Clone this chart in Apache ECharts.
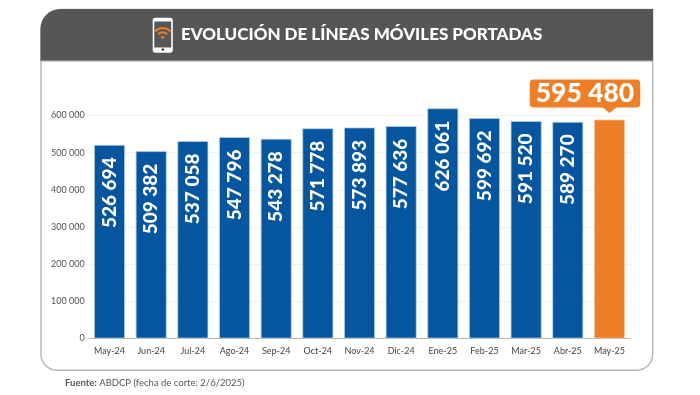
<!DOCTYPE html>
<html><head><meta charset="utf-8">
<style>html,body{margin:0;padding:0;background:#fff}#c{width:700px;height:395px}</style>
<script src="https://cdn.jsdelivr.net/npm/echarts@6/dist/echarts.min.js"></script>
</head><body><div id="c"></div>
<script>
const categories = ['May-24','Jun-24','Jul-24','Ago-24','Sep-24','Oct-24','Nov-24','Dic-24','Ene-25','Feb-25','Mar-25','Abr-25','May-25'];
const values = [526694,509382,537058,547796,543278,571778,573893,577636,626061,599692,591520,589270,595480];
const title = 'EVOLUCIÓN DE LÍNEAS MÓVILES PORTADAS';
const BLUE = '#05569f', ORANGE = '#ee7f26', FONT = 'Lato, "Open Sans", sans-serif';
const fmt = v => String(v).replace(/\B(?=(\d{3})+$)/g, ' ');

const chart = echarts.init(document.getElementById('c'), null, {renderer:'canvas'});
const last = values.length - 1;
chart.setOption({
  animation:false,
  backgroundColor:'#fff',
  textStyle:{fontFamily:FONT},
  grid:{left:88.7, top:115.5, width:541.6, height:223, containLabel:false},
  xAxis:{type:'category', data:categories,
    axisTick:{show:false},
    axisLine:{lineStyle:{color:'#b4b4b4',width:1}},
    axisLabel:{color:'#444',fontSize:9,margin:8,interval:0,fontFamily:FONT}},
  yAxis:[
    {type:'value',min:0,max:600000,interval:100000,
      axisLine:{show:false},axisTick:{show:false},
      splitLine:{lineStyle:{color:'#f1f1f1',width:1}},
      axisLabel:{color:'#555',fontSize:9,margin:4,fontFamily:FONT,formatter:fmt}},
    {type:'value',min:0,max:606500,show:false,splitLine:{show:false}}
  ],
  series:[{
    type:'bar',yAxisIndex:1,clip:false,barWidth:31,z:3,
    data:values.map((v,i)=>i===last?{
      value:v,
      itemStyle:{color:ORANGE,borderColor:'#f7c9a3',borderWidth:0.8},
      label:{show:true,position:'top',rotate:0,distance:12,offset:[-24.5,0],
        align:'center',verticalAlign:'bottom',
        formatter:fmt(v),color:'#fff',fontSize:26.5,fontWeight:900,fontFamily:FONT,
        backgroundColor:ORANGE,borderRadius:4,padding:[1,6,1,6],lineHeight:26}
    }:v),
    itemStyle:{color:BLUE,borderColor:'#bcd0e6',borderWidth:0.8},
    label:{show:true,position:'insideTop',distance:12.5,rotate:90,align:'right',verticalAlign:'middle',
      color:'#fff',fontSize:19,fontWeight:900,fontFamily:FONT,
      formatter:p=>fmt(p.value)},
    markPoint:{silent:true,symbol:'triangle',symbolRotate:180,symbolSize:[17,7],symbolOffset:[0,-10],
      itemStyle:{color:ORANGE},label:{show:false},
      data:[{coord:[categories[last],values[last]]}]}
  }],
  graphic:[
    {type:'rect',z:0,silent:true,shape:{x:41,y:9.5,width:611.7,height:360.7,r:[20,0,16,16]},
      style:{fill:'#fff',stroke:'#b4b4b4',lineWidth:1.4}},
    {type:'rect',z:1,silent:true,shape:{x:40.5,y:9,width:612.5,height:52,r:[20,0,0,0]},
      style:{fill:'#565656'}},
    {type:'rect',z:1,silent:true,shape:{x:40.5,y:60.3,width:612.5,height:1.2},style:{fill:'#9c9c9c'}},
    {type:'rect',z:2,silent:true,shape:{x:153.5,y:18.5,width:18.5,height:33.5,r:2},style:{fill:'#565656',stroke:'#fff',lineWidth:1.6}},
    {type:'rect',z:2,silent:true,shape:{x:153.5,y:18.5,width:18.5,height:3,r:[2,2,0,0]},style:{fill:'#fff'}},
    {type:'rect',z:2,silent:true,shape:{x:153.5,y:47.5,width:18.5,height:4.5,r:[0,0,2,2]},style:{fill:'#fff'}},
    {type:'circle',z:3,silent:true,shape:{cx:162.8,cy:49.5,r:1.3},style:{fill:'#333'}},
    {type:'arc',z:3,silent:true,shape:{cx:162.8,cy:38,r:10,startAngle:-2.45,endAngle:-0.7},style:{fill:null,stroke:ORANGE,lineWidth:2}},
    {type:'arc',z:3,silent:true,shape:{cx:162.8,cy:38,r:5.8,startAngle:-2.45,endAngle:-0.7},style:{fill:null,stroke:ORANGE,lineWidth:2}},
    {type:'circle',z:3,silent:true,shape:{cx:162.8,cy:37.3,r:1.5},style:{fill:ORANGE}},
    {type:'text',z:3,silent:true,style:{x:181,y:35,text:title,fill:'#fff',font:'900 17px '+FONT,verticalAlign:'middle'}},
    {type:'text',z:3,silent:true,style:{x:65,y:382.5,text:'{b|Fuente:} ABDCP (fecha de corte: 2/6/2025)',fill:'#555',
      font:'9.5px '+FONT,verticalAlign:'middle',rich:{b:{fontWeight:'bold',fill:'#555',fontSize:9.5,fontFamily:FONT}}}}
  ]
});
</script></body></html>
